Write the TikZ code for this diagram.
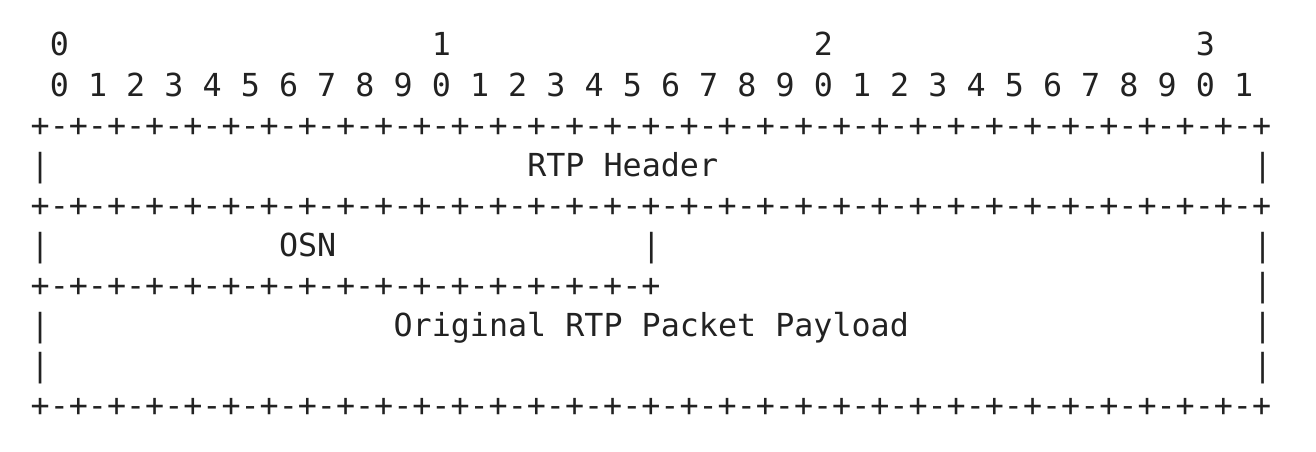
\documentclass[tikz,border=0pt]{standalone}
\usepackage{fontspec}
\setmonofont{DejaVu Sans Mono}
\definecolor{ink}{HTML}{222222}
\tikzset{txt/.style={anchor=base west,inner sep=0pt,text=ink,font=\ttfamily\fontsize{31.7}{31.7}\selectfont}}
% a cell at a column and row of the character grid
\newcommand{\cell}[4]{\node[txt] (#1) at ({30.5+19.1*(#2)},{-(56+40*(#3))}) {#4};}
\begin{document}
\begin{tikzpicture}[x=1pt,y=1pt]
\useasboundingbox (0,0) rectangle (1316,-452);
% bit numbers
\foreach \t in {0,1,2,3} {\cell{tens\t}{1+20*\t}{0}{\t}}
\foreach \i in {0,...,31} {
  \pgfmathtruncatemacro{\d}{mod(\i,10)}
  \cell{bit\i}{1+2*\i}{1}{\d}
}
% borders
\cell{topline}{0}{2}{+-+-+-+-+-+-+-+-+-+-+-+-+-+-+-+-+-+-+-+-+-+-+-+-+-+-+-+-+-+-+-+-+}
\cell{midline}{0}{4}{+-+-+-+-+-+-+-+-+-+-+-+-+-+-+-+-+-+-+-+-+-+-+-+-+-+-+-+-+-+-+-+-+}
\cell{osnline}{0}{6}{+-+-+-+-+-+-+-+-+-+-+-+-+-+-+-+-+}
\cell{botline}{0}{9}{+-+-+-+-+-+-+-+-+-+-+-+-+-+-+-+-+-+-+-+-+-+-+-+-+-+-+-+-+-+-+-+-+}
% side bars
\foreach \r in {3,5,7,8} {\cell{left\r}{0}{\r}{|}}
\foreach \r in {3,5,6,7,8} {\cell{right\r}{64}{\r}{|}}
\cell{osnbar}{32}{5}{|}
% labels
\cell{rtph}{26}{3}{RTP~Header}
\cell{osn}{13}{5}{OSN}
\cell{payload}{19}{7}{Original~RTP~Packet~Payload}
\end{tikzpicture}
\end{document}
